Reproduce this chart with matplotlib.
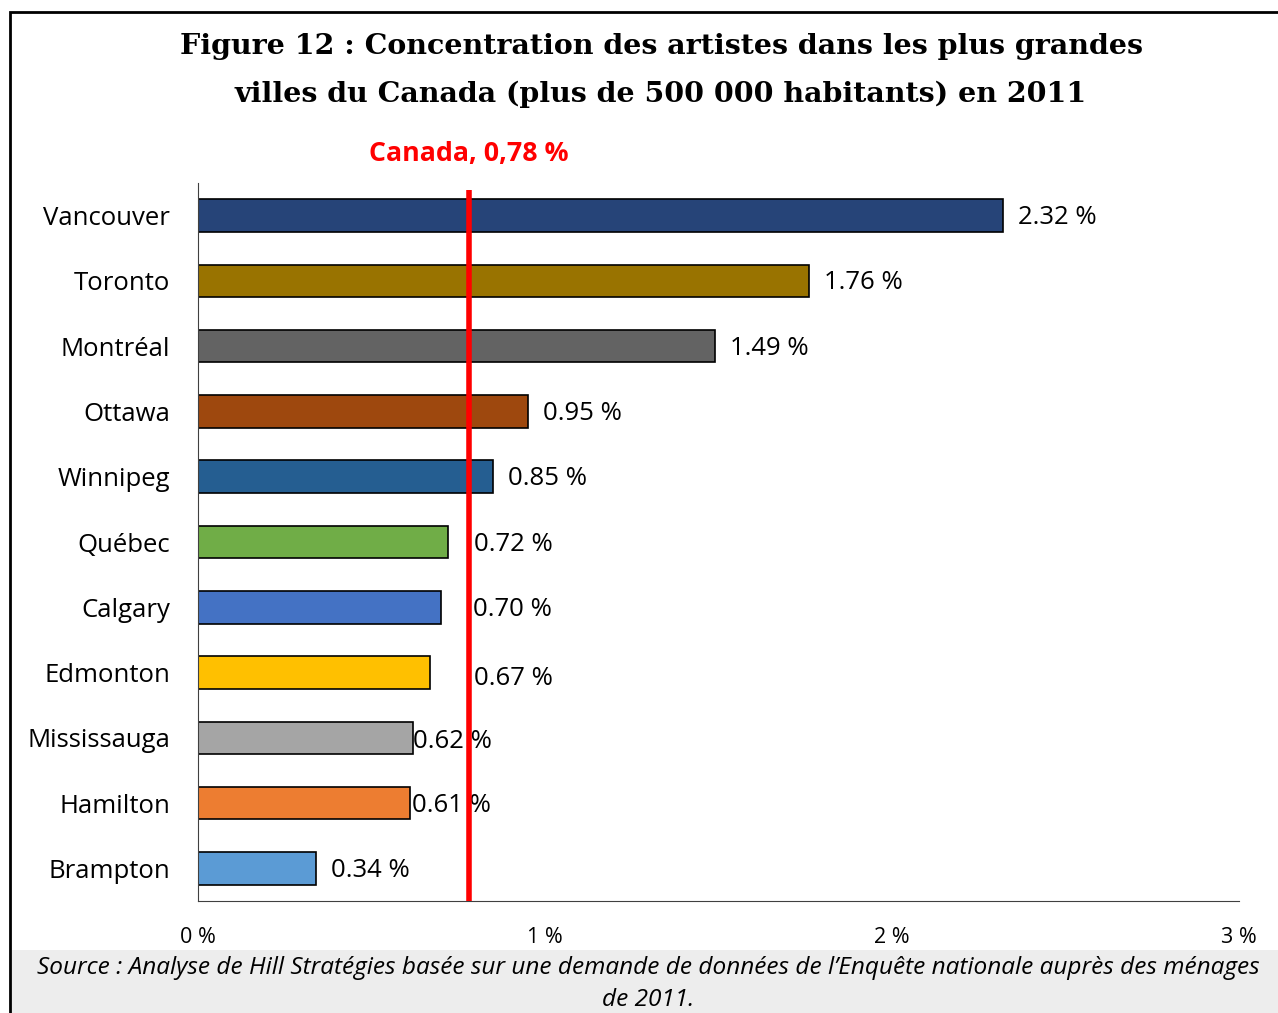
import matplotlib
matplotlib.use('Agg')
import matplotlib.pyplot as plt
from matplotlib.patches import Rectangle

#####################   Data   ##################################
cities = ['Vancouver', 'Toronto', 'Montréal', 'Ottawa', 'Winnipeg', 'Québec',
          'Calgary', 'Edmonton', 'Mississauga', 'Hamilton', 'Brampton']
share = [2.32, 1.76, 1.49, 0.95, 0.85, 0.72, 0.70, 0.67, 0.62, 0.61, 0.34]
labels = ['2.32 %', '1.76 %', '1.49 %', '0.95 %', '0.85 %', '0.72 %',
          '0.70 %', '0.67 %', '0.62 %', '0.61 %', '0.34 %']
colors = ['#264478', '#997300', '#636363', '#9E480E', '#255E91', '#70AD47',
          '#4472C4', '#FFC000', '#A5A5A5', '#ED7D31', '#5B9BD5']
canada = 0.78
xticks = [0, 1, 2, 3]
xtick_labels = ['0 %', '1 %', '2 %', '3 %']

# label offsets (points) - some were moved by hand in the original
label_dx = {'Québec': 19, 'Calgary': 23, 'Edmonton': 31, 'Mississauga': 0, 'Hamilton': 2}
label_dy = {'Edmonton': -4, 'Mississauga': -2.5}

W, H = 1278, 1013
fig = plt.figure(figsize=(W / 100, H / 100), dpi=100)

# outer frame + source band
fig.patches.append(Rectangle((10 / W, -0.1), 1.1, 1 - 12 / H + 0.1, transform=fig.transFigure,
                             fill=False, edgecolor='black', linewidth=2))
fig.patches.append(Rectangle((12 / W, 0), 1.0, 63 / H, transform=fig.transFigure,
                             facecolor='#EDEDED', edgecolor='none'))

ax = fig.add_axes([198 / W, 1 - 901 / H, (1239 - 198) / W, (901 - 183) / H])

y = list(range(len(cities)))
ax.barh(y, share, height=0.5, color=colors, edgecolor='black', linewidth=1.2, zorder=2)
ax.set_ylim(len(cities) - 0.5, -0.5)
ax.set_xlim(0, 3)

for i, c in enumerate(cities):
    ax.annotate(labels[i], (share[i], i), xytext=(label_dx.get(c, 11), label_dy.get(c, -1.5)),
                textcoords='offset points', va='center', ha='left',
                fontsize=18.5, family='Open Sans', zorder=3)

ax.plot([canada, canada], [-0.4, len(cities) - 0.5], color='red', linewidth=4, zorder=4,
        solid_capstyle='butt')
ax.text(canada, -0.95, 'Canada, 0,78 %', color='red', fontsize=19.3, fontweight='bold',
        family='Open Sans', ha='center', va='center')

ax.set_yticks(y)
ax.set_yticklabels(cities, fontsize=18.5, family='Open Sans')
ax.set_xticks(xticks)
ax.set_xticklabels(xtick_labels, fontsize=15.5, family='Open Sans')
ax.tick_params(axis='y', length=0, pad=20)
ax.tick_params(axis='x', length=0, pad=19)
for s in ['top', 'right']:
    ax.spines[s].set_visible(False)
ax.spines['left'].set_color('#404040')
ax.spines['bottom'].set_color('#404040')

fig.text(661 / W, 1 - 46 / H, 'Figure 12 : Concentration des artistes dans les plus grandes',
         ha='center', va='center', fontsize=20.5, fontweight='bold', family='DejaVu Serif')
fig.text(661 / W, 1 - 94 / H, 'villes du Canada (plus de 500 000 habitants) en 2011',
         ha='center', va='center', fontsize=20.5, fontweight='bold', family='DejaVu Serif')

fig.text(648 / W, 1 - 968 / H,
         'Source : Analyse de Hill Stratégies basée sur une demande de données de l\u2019Enquête nationale auprès des ménages',
         ha='center', va='center', fontsize=17.6, style='italic', family='Open Sans')
fig.text(648 / W, 1 - 1000 / H, 'de 2011.',
         ha='center', va='center', fontsize=17.6, style='italic', family='Open Sans')

fig.savefig('out.png', dpi=100)
